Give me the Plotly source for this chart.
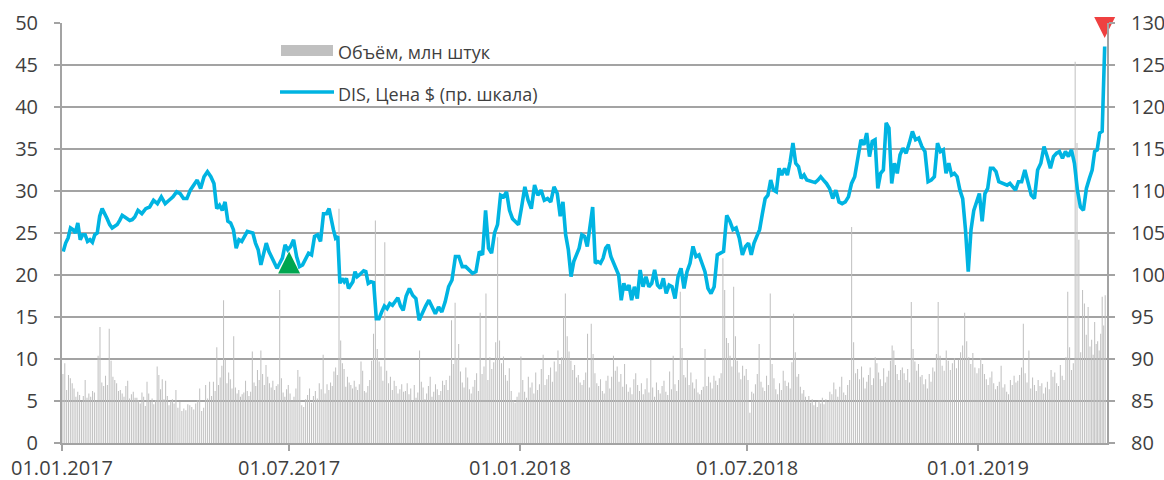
import pandas as pd
import plotly.graph_objects as go

# ---------------- data ----------------
months = ["2017-01", "2017-02", "2017-03", "2017-04", "2017-05", "2017-06",
          "2017-07", "2017-08", "2017-09", "2017-10", "2017-11", "2017-12",
          "2018-01", "2018-02", "2018-03", "2018-04", "2018-05", "2018-06",
          "2018-07", "2018-08", "2018-09", "2018-10", "2018-11", "2018-12",
          "2019-01", "2019-02", "2019-03", "2019-04"]
last_day = "2019-04-13"

# DIS close price, $ (right axis), readings per month
price = [
    [102.8, 103.8, 104.4, 105.6, 105.4, 105.0, 106.2, 104.2, 104.8, 104.8, 104.0, 104.2, 103.9, 104.8, 105.0, 107.0],
    [107.9, 107.4, 106.7, 106.0, 105.6, 105.8, 106.0, 106.5, 107.1, 106.9, 106.7, 106.5, 106.6, 106.9],
    [107.7, 107.3, 107.9, 108.1, 108.9, 108.5, 109.3, 108.5, 108.9, 109.3],
    [109.9, 109.7, 109.1, 109.1, 110.1, 110.7, 111.3, 110.3, 111.7, 112.3, 111.7],
    [110.9, 107.9, 108.3, 107.7, 108.7, 106.4, 106.2, 105.4, 103.2, 104.2, 104.0, 104.6, 105.2, 105.1],
    [105.0, 103.8, 103.0, 101.2, 102.6, 103.8, 102.8, 102.2, 101.4, 100.8, 101.4, 102.0, 103.6, 103.0],
    [103.4, 104.2, 102.2, 101.0, 101.2, 101.8, 102.6, 102.4, 104.6, 104.8, 104.0, 107.3, 107.3],
    [107.9, 106.4, 105.4, 104.4, 104.6, 99.0, 99.6, 99.2, 99.6, 98.4, 98.8, 99.2, 100.4, 99.8, 100.0, 100.2, 100.5, 100.4],
    [99.0, 99.2, 99.1, 94.8, 94.8, 95.6, 96.3, 96.0, 96.6, 96.4, 96.9, 97.3, 96.3, 95.8],
    [97.5, 98.4, 97.6, 97.2, 94.6, 95.6, 96.3, 97.0, 96.2, 95.4, 96.2, 95.6],
    [96.8, 98.6, 99.4, 102.2, 102.2, 101.0, 101.0, 100.6, 100.2, 100.4, 102.8],
    [102.4, 107.7, 103.2, 102.6, 105.0, 106.0, 109.5, 109.3, 109.9, 107.7, 106.7, 106.4, 106.0],
    [108.1, 110.5, 108.9, 107.9, 110.7, 109.5, 110.1, 108.9, 109.1, 108.7, 110.5, 109.7],
    [107.0, 108.7, 104.8, 103.0, 99.8, 101.6, 102.4, 103.2, 104.8, 104.6, 103.4, 105.8, 108.1],
    [101.4, 101.6, 101.4, 102.0, 103.2, 103.6, 102.2, 101.4, 100.6, 100.0, 97.0, 99.0, 98.2, 98.8, 97.0],
    [98.6, 97.2, 100.6, 98.6, 99.8, 98.6, 99.0, 100.6, 98.8, 98.4, 99.6, 97.8, 98.8],
    [98.6, 97.2, 99.8, 100.8, 98.4, 100.4, 101.4, 103.4, 102.2, 102.4, 101.4, 100.4, 98.4],
    [97.8, 98.6, 102.4, 102.6, 102.8, 107.1, 106.4, 105.4, 105.6, 104.4, 102.4, 103.4],
    [103.8, 102.4, 103.8, 104.6, 105.4, 107.3, 109.1, 109.5, 111.3, 110.1, 109.9, 112.7, 111.9, 112.7],
    [111.9, 113.5, 115.7, 113.3, 112.9, 111.5, 111.9, 111.3, 111.2, 111.1, 111.0, 111.3, 111.7, 111.3],
    [110.9, 110.3, 109.1, 110.1, 108.7, 108.5, 108.7, 109.3, 110.9, 111.7, 114.1, 116.1],
    [115.5, 116.9, 114.1, 115.9, 116.1, 110.3, 112.1, 112.5, 118.1, 117.5, 110.9, 113.3, 112.1, 114.3],
    [115.1, 114.5, 115.7, 117.1, 116.1, 116.3, 115.3, 114.7, 111.1, 111.3, 111.7, 115.7],
    [114.7, 114.9, 112.1, 113.3, 111.9, 112.1, 111.7, 110.1, 109.1, 105.4, 100.4, 105.4, 107.7, 108.8],
    [109.7, 106.4, 109.7, 110.3, 112.7, 112.7, 112.3, 111.1, 111.0, 110.9, 110.7, 110.9, 110.5, 110.1],
    [111.1, 111.1, 112.5, 111.1, 109.5, 109.1, 112.5, 113.3, 115.3, 114.1, 112.7],
    [114.1, 114.5, 114.7, 113.9, 114.7, 114.1, 114.9, 113.3, 110.1, 108.1, 107.7, 110.3, 111.5],
    [112.5, 114.7, 114.9, 116.9, 117.1, 127.2],
]

# Daily volume, mln shares (left axis), per month
volume = [
    [8.2, 9.5, 6.3, 8.1, 7.7, 7.1, 6.5, 5.5, 6.1, 5.7, 4.9, 5.6, 7.5, 5.4, 5.9, 5.5, 6.2, 6.0, 5.1, 10.4, 13.8],
    [7.2, 6.8, 8.0, 6.9, 13.6, 9.8, 7.9, 7.5, 7.1, 6.2, 6.3, 5.9, 5.5, 6.8, 7.4, 5.3, 5.8, 6.1, 5.4],
    [5.4, 5.1, 4.7, 6.0, 5.5, 4.4, 7.3, 5.9, 4.9, 5.3, 4.6, 5.1, 9.1, 8.1, 6.4, 7.6, 5.2, 7.4, 5.6, 4.5, 5.0, 5.2, 4.7],
    [6.3, 4.2, 4.9, 3.8, 4.1, 3.9, 4.6, 4.5, 4.3, 4.0, 4.7, 5.1, 6.5, 3.8, 4.2, 6.9, 5.3, 7.3, 5.6],
    [7.3, 6.2, 11.4, 6.9, 7.8, 9.2, 17.0, 9.9, 7.1, 8.4, 7.6, 6.5, 12.7, 6.6, 5.9, 6.3, 5.5, 5.8, 6.0, 7.4, 6.2, 5.6, 6.1],
    [10.9, 7.2, 6.8, 8.7, 7.5, 11.0, 8.2, 6.9, 9.3, 7.9, 7.1, 6.6, 7.4, 6.3, 6.8, 7.0, 18.2, 7.7, 6.0, 5.5, 6.4, 6.9],
    [5.9, 5.1, 5.5, 6.5, 8.7, 7.9, 4.5, 4.3, 5.2, 5.7, 6.5, 4.8, 5.6, 6.2, 5.3, 7.1, 6.4, 10.5, 5.9, 7.0],
    [6.3, 7.2, 6.8, 8.5, 9.0, 8.1, 27.9, 12.2, 9.5, 8.8, 6.7, 7.9, 7.2, 6.9, 6.5, 7.4, 6.7, 6.3, 7.0, 9.7, 8.6, 6.2, 6.0],
    [6.8, 7.5, 9.8, 13.0, 26.5, 11.2, 9.7, 9.1, 7.4, 23.9, 8.6, 7.1, 7.9, 6.3, 7.4, 6.8, 5.9, 6.4, 7.0, 6.1],
    [6.2, 7.1, 5.8, 6.5, 5.1, 6.9, 5.4, 6.0, 11.0, 7.3, 6.6, 5.2, 5.9, 6.8, 7.9, 5.5, 6.1, 7.0, 6.4, 5.7, 6.2, 7.4],
    [6.9, 7.5, 6.3, 8.0, 14.6, 9.4, 16.7, 10.1, 11.8, 8.5, 7.2, 6.6, 9.0, 7.8, 6.4, 5.9, 6.7, 7.5, 8.3, 6.2, 15.5],
    [8.2, 9.1, 17.8, 7.5, 10.2, 8.8, 9.6, 12.0, 24.5, 12.2, 9.5, 10.3, 8.1, 7.4, 8.9, 6.2, 5.1, 4.8, 5.5, 6.0],
    [10.3, 7.5, 6.1, 5.4, 7.9, 6.6, 7.2, 5.9, 8.4, 6.3, 7.0, 8.8, 10.5, 6.9, 7.6, 8.1, 9.0, 7.3, 9.7, 8.5, 11.0],
    [9.4, 10.2, 15.0, 17.8, 12.7, 10.9, 9.8, 8.7, 9.3, 7.8, 8.1, 7.2, 6.9, 7.5, 8.4, 13.0, 6.6, 14.2, 10.6],
    [8.3, 7.1, 6.8, 7.6, 6.2, 5.9, 7.4, 8.0, 6.5, 7.9, 10.4, 8.6, 9.1, 7.3, 8.2, 6.7, 9.4, 7.0, 6.1, 6.6, 5.8],
    [7.6, 8.3, 6.9, 6.2, 7.1, 5.8, 6.4, 7.7, 6.0, 9.9, 6.6, 5.5, 7.2, 6.3, 5.9, 6.8, 7.4, 6.1, 5.7, 8.5],
    [6.4, 10.4, 7.0, 6.2, 7.5, 18.0, 11.3, 8.1, 7.8, 9.9, 6.9, 8.4, 7.2, 6.5, 7.6, 6.0, 5.8, 6.3, 6.7, 11.2, 6.8, 7.9],
    [7.2, 6.5, 8.0, 7.4, 6.9, 7.7, 8.3, 22.0, 18.2, 12.5, 11.9, 10.4, 9.1, 18.6, 12.7, 9.8, 8.4, 7.6, 9.2, 8.0, 8.8],
    [7.5, 3.6, 6.1, 5.9, 7.0, 8.2, 11.8, 7.3, 6.6, 6.2, 8.0, 6.9, 17.8, 9.4, 7.7, 6.4, 5.8, 7.1, 6.3, 8.6, 7.4],
    [6.8, 7.2, 6.5, 9.6, 15.4, 10.8, 7.9, 8.2, 6.7, 5.9, 6.3, 5.5, 5.0, 5.6, 4.8, 5.2, 4.5, 4.9, 4.3, 5.1, 4.7, 5.4, 4.6],
    [5.2, 4.9, 6.1, 5.8, 7.2, 6.4, 5.5, 6.7, 7.9, 6.0, 5.7, 6.9, 7.5, 25.7, 12.0, 8.3, 8.8, 7.6, 9.1],
    [7.8, 6.5, 7.3, 8.1, 9.0, 6.9, 7.7, 10.2, 9.5, 8.4, 7.6, 6.8, 8.9, 7.2, 7.9, 8.6, 9.8, 11.6, 11.0, 9.3, 8.2, 7.5, 8.7],
    [9.0, 8.3, 7.5, 8.8, 7.2, 16.8, 11.2, 9.7, 8.6, 9.4, 7.9, 8.1, 7.0, 7.6, 6.5, 8.2, 7.3, 9.0, 8.5, 10.6, 16.8],
    [10.4, 9.2, 8.6, 11.0, 9.8, 8.7, 9.5, 10.1, 8.9, 9.9, 10.8, 11.6, 15.5, 12.1, 10.2, 9.4, 10.7, 9.0, 8.3],
    [8.9, 10.1, 9.4, 8.2, 7.6, 6.9, 7.8, 8.5, 7.1, 6.4, 6.8, 7.3, 9.2, 6.6, 7.0, 6.1, 5.8, 7.5, 6.9, 8.0, 7.2],
    [7.4, 8.1, 9.0, 14.2, 8.3, 7.2, 11.0, 6.5, 7.8, 6.9, 6.2, 7.5, 6.8, 7.1, 5.9, 6.6, 7.3, 6.4, 8.7],
    [7.9, 8.4, 7.1, 6.8, 9.3, 8.0, 7.5, 10.2, 18.0, 11.4, 8.7, 9.5, 45.4, 35.7, 24.2, 10.8, 18.2, 16.6, 12.9, 16.2, 11.5],
    [12.3, 10.5, 14.4, 11.8, 12.1, 11.0, 13.0, 17.4, 14.0, 17.6],
]

# signal markers: (date, price level)
buy_signal = ("2017-07-01", 102.8)
sell_signal = ("2019-04-12", 128.2)

tick_dates = ["2017-01-01", "2017-07-01", "2018-01-01", "2018-07-01", "2019-01-01"]
tick_labels = ["01.01.2017", "01.07.2017", "01.01.2018", "01.07.2018", "01.01.2019"]

vol_name = "Объём, млн штук"
price_name = "DIS, Цена $ (пр. шкала)"


# ---------------- helpers ----------------
def spread(month, n):
    start = pd.Timestamp(month + "-01")
    end = start + pd.offsets.MonthBegin(1)
    if month == months[-1]:
        end = pd.Timestamp(last_day)
    span = end - start
    return [start + span * ((i + 0.5) / n) for i in range(n)]


px_dates, px_vals = [], []
for m, vals in zip(months, price):
    px_dates += spread(m, len(vals))
    px_vals += vals

vol_dates, vol_vals = [], []
for m, vals in zip(months, volume):
    vol_dates += spread(m, len(vals))
    vol_vals += vals

GRID = "#a3a3a3"
TXT = "#3f3f3f"
CYAN = "#00B4E2"
FONT = "Open Sans"

fig = go.Figure()
# slight transparency keeps plotly from snapping the thin bars to 2px
fig.add_trace(go.Bar(x=vol_dates, y=vol_vals, name=vol_name,
                     marker=dict(color="rgba(190,190,190,0.98)", line=dict(width=0)),
                     width=86400000 * 0.8, yaxis="y"))
fig.add_trace(go.Scatter(x=px_dates, y=px_vals, name=price_name, mode="lines",
                         line=dict(color=CYAN, width=3.6), yaxis="y2"))
fig.add_trace(go.Scatter(x=[buy_signal[0]], y=[buy_signal[1]], mode="markers",
                         marker=dict(symbol="arrow-up", size=22, color="#00A650",
                                     line=dict(width=0)),
                         yaxis="y2", showlegend=False, cliponaxis=False))
fig.add_trace(go.Scatter(x=[sell_signal[0]], y=[sell_signal[1]], mode="markers",
                         marker=dict(symbol="arrow-down", size=21, color="#EF4040",
                                     line=dict(width=0)),
                         yaxis="y2", showlegend=False, cliponaxis=False))

# legend drawn inside the plot, as in the original
L, R, T, B = 62, 1107, 23, 443
def xp(p): return (p - L) / (R - L)
def yp(p): return (B - p) / (B - T)

shapes = [
    dict(type="rect", xref="paper", yref="paper", x0=xp(281), x1=xp(333),
         y0=yp(56), y1=yp(45), fillcolor="#c0c0c0", line=dict(width=0)),
    dict(type="line", xref="paper", yref="paper", x0=xp(280), x1=xp(334),
         y0=yp(92), y1=yp(92), line=dict(color=CYAN, width=3.6)),
]
annotations = [
    dict(text=vol_name, xref="paper", yref="paper", x=xp(336), y=yp(52),
         xanchor="left", yanchor="middle", showarrow=False,
         font=dict(family=FONT, size=18, color=TXT)),
    dict(text=price_name, xref="paper", yref="paper", x=xp(336), y=yp(94),
         xanchor="left", yanchor="middle", showarrow=False,
         font=dict(family=FONT, size=18, color=TXT)),
]

axis_common = dict(showline=True, linecolor=GRID, linewidth=2, ticks="outside",
                   tickcolor=GRID, tickwidth=2, automargin=False, zeroline=False,
                   tickfont=dict(family=FONT, size=20, color=TXT))

fig.update_layout(
    template="none",
    width=1164, height=480,
    margin=dict(l=L, r=1164 - R, t=T, b=480 - B, pad=0),
    plot_bgcolor="white", paper_bgcolor="white",
    showlegend=False, bargap=0.05,
    font=dict(family=FONT, size=20, color=TXT),
    xaxis=dict(type="date", range=["2017-01-01", "2019-04-13 20:00"],
               tickmode="array", tickvals=tick_dates, ticktext=tick_labels,
               ticklen=6, showgrid=False, ticklabelstandoff=0, **axis_common),
    yaxis=dict(range=[0, 50], tickmode="linear", tick0=0, dtick=5,
               showgrid=True, gridcolor=GRID, gridwidth=2, ticklen=6,
               ticklabelstandoff=12, **axis_common),
    yaxis2=dict(range=[80, 130], tickmode="linear", tick0=80, dtick=5,
                overlaying="y", side="right", showgrid=False, ticklen=6,
                ticklabelstandoff=12, **axis_common),
    shapes=shapes, annotations=annotations,
)

fig.write_html("out.html", config={"displayModeBar": False},
               post_script="document.body.style.margin='0';document.body.style.padding='0';")
